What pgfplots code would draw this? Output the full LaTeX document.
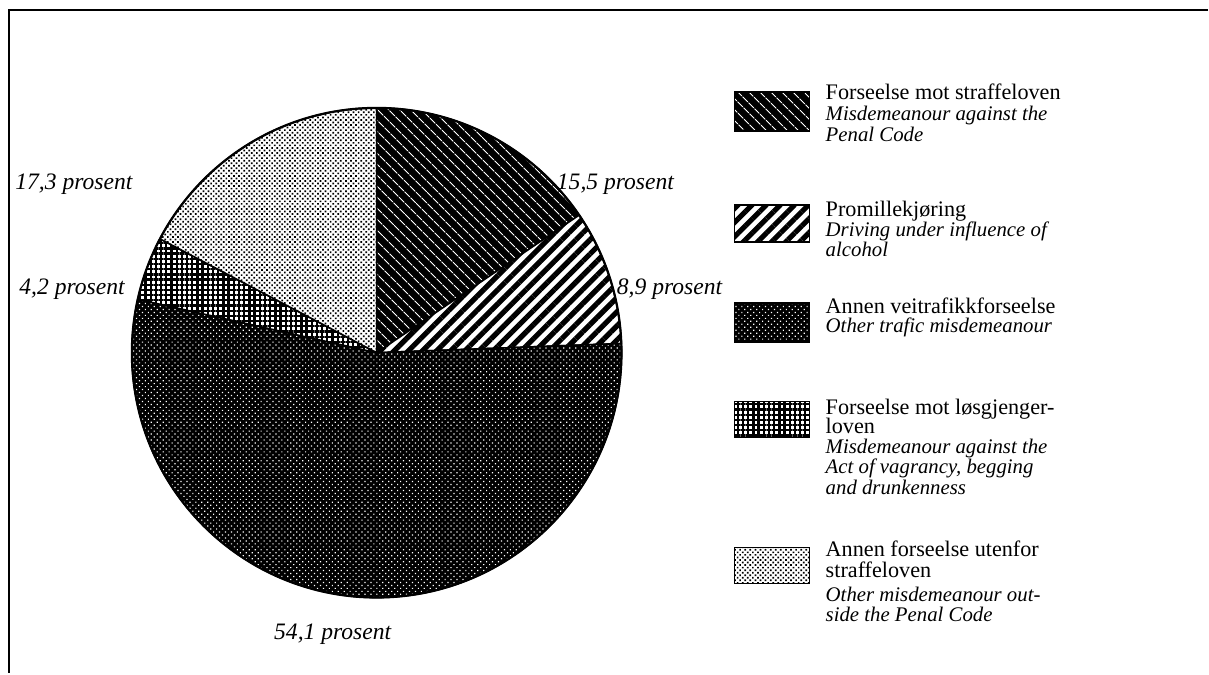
\documentclass[border=0pt]{standalone}
\usepackage{fontspec}
\setmainfont{Liberation Serif}
\usepackage{pgfplots}
\pgfplotsset{compat=1.18}
\usetikzlibrary{patterns.meta}

\tikzset{
 s1/.style={preaction={fill=black}, pattern={Lines[angle=-45,distance=4pt,line width=0.55pt]}, pattern color=white},
 s2/.style={preaction={fill=white}, pattern={Lines[angle=45,distance=5pt,line width=2.6pt]}, pattern color=black},
 s3/.style={preaction={fill=black}, pattern={Dots[angle=45,distance=2.1pt,radius=0.42pt]}, pattern color=white},
 s4/.style={preaction={fill=white}, pattern={Hatch[angle=0,distance=2.6pt,line width=1.15pt]}, pattern color=black},
 s5/.style={preaction={fill=white}, pattern={Dots[angle=45,distance=1.8pt,radius=0.6pt]}, pattern color=black},
}
\newcommand\up{\fontsize{11.1}{12}\selectfont}
\newcommand\lit{\fontsize{10.4}{12}\selectfont\itshape}
\newcommand\plab{\fontsize{11.8}{12}\selectfont\itshape}

% slice: #1 cumulative percent before, #2 percent, #3 style
\newcommand\pieslice[3]{%
  \filldraw[#3, line width=0.8pt] (axis cs:377,353) -- ++({90-3.6*(#1)}:122.5pt)
    arc[start angle={90-3.6*(#1)}, end angle={90-3.6*((#1)+(#2))}, radius=122.5pt] -- cycle;
}
\newcommand\legbox[3]{% #1 top y, #2 bottom y, #3 style
  \filldraw[#3, line width=0.8pt] (axis cs:735,#1) rectangle (axis cs:810,#2);
}

\begin{document}
\begin{tikzpicture}
\begin{axis}[x=0.5pt, y=0.5pt, xmin=0, xmax=1209, ymin=0, ymax=674,
  y dir=reverse, hide axis, scale only axis, clip=false]
\path (axis cs:0,0) rectangle (axis cs:1209,674);
\draw[line width=1pt] (axis cs:1209,10) -- (axis cs:9,10) -- (axis cs:9,674);

% pie (values in percent)
\pieslice{0}{15.5}{s1}
\pieslice{15.5}{8.9}{s2}
\pieslice{24.4}{54.1}{s3}
\pieslice{78.5}{4.2}{s4}
\pieslice{82.7}{17.3}{s5}
\draw[line width=1.1pt] (axis cs:377,353) circle[radius=122.5pt];

% pie labels
\node[anchor=base west, inner sep=0, font=\plab] at (axis cs:557,190) {15,5 prosent};
\node[anchor=base west, inner sep=0, font=\plab] at (axis cs:617,295) {8,9 prosent};
\node[anchor=base west, inner sep=0, font=\plab] at (axis cs:274,640) {54,1 prosent};
\node[anchor=base west, inner sep=0, font=\plab] at (axis cs:19,295) {4,2 prosent};
\node[anchor=base west, inner sep=0, font=\plab] at (axis cs:15,190) {17,3 prosent};

% legend
\legbox{92}{131}{s1}
\legbox{205}{242}{s2}
\legbox{303}{342}{s3}
\legbox{402}{438}{s4}
\legbox{548}{584}{s5}

\node[anchor=base west, inner sep=0, font=\up]  at (axis cs:826,100)   {Forseelse mot straffeloven};
\node[anchor=base west, inner sep=0, font=\lit] at (axis cs:826,120.7) {Misdemeanour against the};
\node[anchor=base west, inner sep=0, font=\lit] at (axis cs:826,141.7) {Penal Code};

\node[anchor=base west, inner sep=0, font=\up]  at (axis cs:826,216.7) {Promillekjøring};
\node[anchor=base west, inner sep=0, font=\lit] at (axis cs:826,236.7) {Driving under influence of};
\node[anchor=base west, inner sep=0, font=\lit] at (axis cs:826,256.7) {alcohol};

\node[anchor=base west, inner sep=0, font=\up]  at (axis cs:826,313.3) {Annen veitrafikkforseelse};
\node[anchor=base west, inner sep=0, font=\lit] at (axis cs:826,332.5) {Other trafic misdemeanour};

\node[anchor=base west, inner sep=0, font=\up]  at (axis cs:826,414.5) {Forseelse mot løsgjenger-};
\node[anchor=base west, inner sep=0, font=\up]  at (axis cs:826,433.8) {loven};
\node[anchor=base west, inner sep=0, font=\lit] at (axis cs:826,454.3) {Misdemeanour against the};
\node[anchor=base west, inner sep=0, font=\lit] at (axis cs:826,474.3) {Act of vagrancy, begging};
\node[anchor=base west, inner sep=0, font=\lit] at (axis cs:826,495)   {and drunkenness};

\node[anchor=base west, inner sep=0, font=\up]  at (axis cs:826,557.3) {Annen forseelse utenfor};
\node[anchor=base west, inner sep=0, font=\up]  at (axis cs:826,578.3) {straffeloven};
\node[anchor=base west, inner sep=0, font=\lit] at (axis cs:826,601.7) {Other misdemeanour out-};
\node[anchor=base west, inner sep=0, font=\lit] at (axis cs:826,621.7) {side the Penal Code};
\end{axis}
\end{tikzpicture}
\end{document}
